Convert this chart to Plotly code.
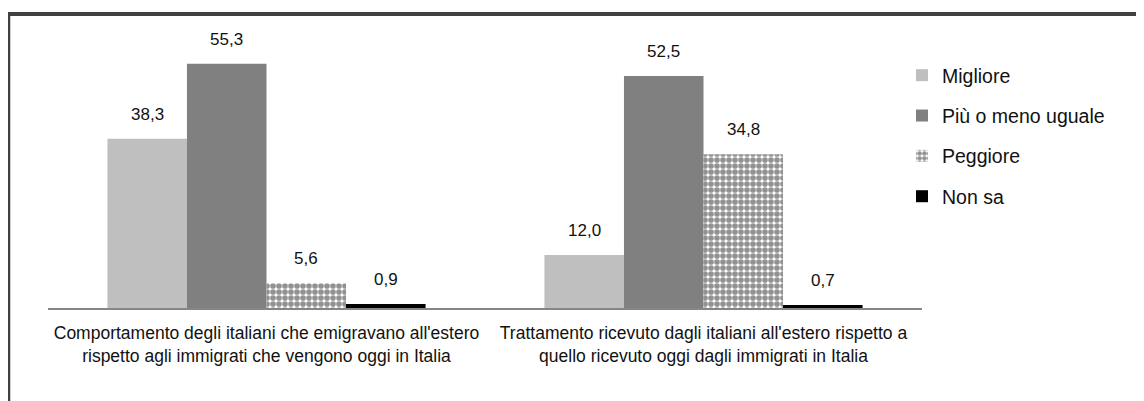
import plotly.graph_objects as go

categories = [
    "Comportamento degli italiani che emigravano all'estero<br>rispetto agli immigrati che vengono oggi in Italia",
    "Trattamento ricevuto dagli italiani all'estero rispetto a<br>quello ricevuto oggi dagli immigrati in Italia",
]
series_names = ["Migliore", "Più o meno uguale", "Peggiore", "Non sa"]
migliore = [38.3, 12.0]
piu_o_meno = [55.3, 52.5]
peggiore = [5.6, 34.8]
non_sa = [0.9, 0.7]

values = [migliore, piu_o_meno, peggiore, non_sa]
colors = ["#BFBFBF", "#808080", "#FFFFFF", "#000000"]

FONT = "Liberation Sans, Arial, sans-serif"
OFF = 8  # page body margin
W, H = 1144 - OFF, 401 - OFF
# plot area in page pixels: x 48..922, y 43..308
L, T = 48 - OFF, 43 - OFF
R = W - (922 - OFF)
B = H - (308 - OFF)
pw, ph = W - L - R, H - T - B


def px_x(x):  # page px -> paper
    return (x - OFF - L) / pw


def px_y(y):
    return (H - B - (y - OFF)) / ph


fig = go.Figure()
for i, (name, vals, col) in enumerate(zip(series_names, values, colors)):
    marker = dict(color=col, line=dict(width=0))
    if name == "Peggiore":
        marker = dict(color="#FFFFFF", line=dict(width=0),
                      pattern=dict(shape=".", fgcolor="#262626", bgcolor="#FFFFFF",
                                   size=6, solidity=0.7))
    fig.add_trace(go.Bar(x=categories, y=vals, name=name, marker=marker,
                         legendgroup=name))

bar_w = pw / 2 * (1 - 0.272) / 4
for i, vals in enumerate(values):
    for c, v in zip(categories, vals):
        fig.add_annotation(x=c, y=v, text=f"{v:.1f}".replace(".", ","),
                           showarrow=False, yanchor="bottom",
                           xshift=(i - 1.5) * bar_w, yshift=13,
                           font=dict(family=FONT, size=17, color="#111111"))

# frame (top and left edges visible)
fig.add_shape(type="line", xref="paper", yref="paper",
              x0=px_x(8), x1=px_x(1160), y0=px_y(14), y1=px_y(14),
              line=dict(color="#404040", width=4))
fig.add_shape(type="line", xref="paper", yref="paper",
              x0=px_x(9), x1=px_x(9), y0=px_y(12), y1=px_y(420),
              line=dict(color="#404040", width=2.5))

fig.update_layout(
    width=W, height=H,
    margin=dict(l=L, r=R, t=T, b=B, autoexpand=False),
    paper_bgcolor="white", plot_bgcolor="white",
    barmode="group", bargap=0.272, bargroupgap=0,
    showlegend=True,
    legend=dict(x=px_x(902), y=px_y(56), xanchor="left", yanchor="top",
                font=dict(family=FONT, size=19.5, color="#111111"),
                tracegroupgap=12, bgcolor="rgba(0,0,0,0)"),
    xaxis=dict(showline=True, linecolor="#868686", linewidth=1.5,
               ticks="outside", ticklen=8, tickcolor="rgba(0,0,0,0)",
               tickfont=dict(family=FONT, size=17.5, color="#111111"),
               showgrid=False, zeroline=False),
    yaxis=dict(range=[0, 60], visible=False, showgrid=False, zeroline=False),
)

fig.write_html("out.html")
